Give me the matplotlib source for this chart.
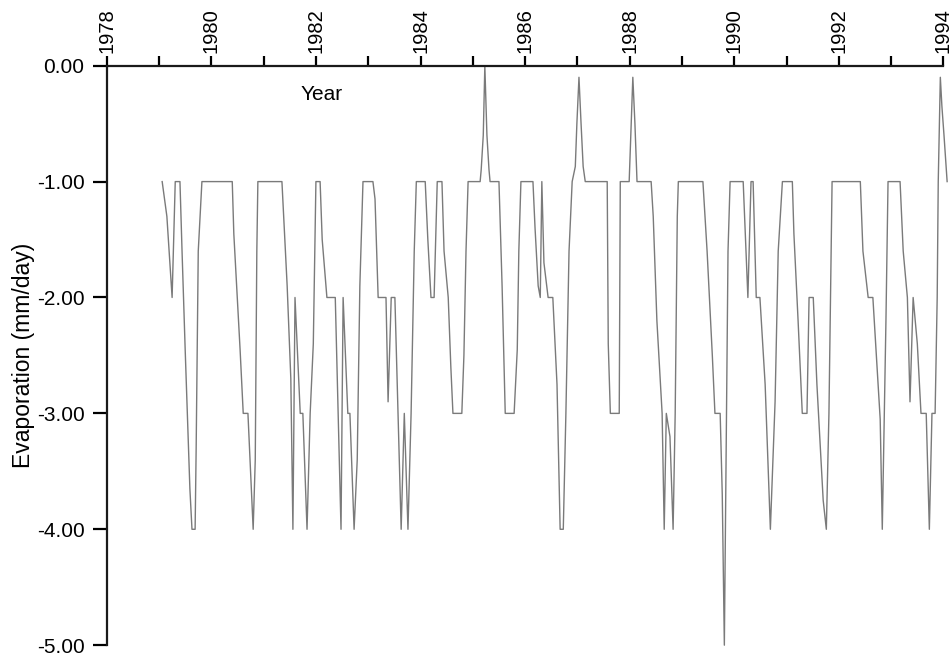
import matplotlib
matplotlib.use("Agg")
import matplotlib.pyplot as plt
from matplotlib.ticker import FormatStrFormatter

plt.rcParams['font.family'] = ['Liberation Sans', 'DejaVu Sans']
plt.rcParams['axes.unicode_minus'] = False

# evaporation trace (year, mm/day)
years = [
    1979.06, 1979.15, 1979.25, 1979.31, 1979.40, 1979.44, 1979.50, 1979.59, 1979.63, 1979.69,
    1979.71, 1979.75, 1979.82, 1980.40, 1980.43, 1980.55, 1980.61, 1980.70, 1980.80, 1980.84,
    1980.87, 1980.89, 1981.35, 1981.45, 1981.52, 1981.56, 1981.60, 1981.70, 1981.75, 1981.83,
    1981.89, 1981.95, 1982.00, 1982.08, 1982.12, 1982.21, 1982.37, 1982.42, 1982.48, 1982.52,
    1982.61, 1982.65, 1982.73, 1982.79, 1982.84, 1982.90, 1983.09, 1983.13, 1983.19, 1983.34,
    1983.38, 1983.44, 1983.51, 1983.57, 1983.63, 1983.69, 1983.76, 1983.82, 1983.88, 1983.92,
    1984.09, 1984.14, 1984.20, 1984.26, 1984.32, 1984.41, 1984.45, 1984.53, 1984.58, 1984.62,
    1984.79, 1984.83, 1984.87, 1984.91, 1985.14, 1985.16, 1985.20, 1985.23, 1985.27, 1985.31,
    1985.33, 1985.50, 1985.56, 1985.62, 1985.79, 1985.85, 1985.88, 1985.92, 1986.15, 1986.19,
    1986.25, 1986.29, 1986.32, 1986.36, 1986.44, 1986.53, 1986.61, 1986.67, 1986.73, 1986.78,
    1986.84, 1986.90, 1986.96, 1986.99, 1987.03, 1987.07, 1987.11, 1987.15, 1987.57, 1987.59,
    1987.63, 1987.80, 1987.82, 1987.99, 1988.03, 1988.06, 1988.10, 1988.14, 1988.41, 1988.45,
    1988.52, 1988.62, 1988.66, 1988.70, 1988.77, 1988.83, 1988.87, 1988.91, 1988.93, 1989.40,
    1989.48, 1989.58, 1989.63, 1989.73, 1989.77, 1989.81, 1989.84, 1989.88, 1989.92, 1990.17,
    1990.21, 1990.26, 1990.32, 1990.36, 1990.42, 1990.49, 1990.59, 1990.69, 1990.78, 1990.84,
    1990.92, 1991.11, 1991.14, 1991.22, 1991.30, 1991.39, 1991.43, 1991.51, 1991.58, 1991.70,
    1991.76, 1991.81, 1991.87, 1992.41, 1992.46, 1992.56, 1992.65, 1992.79, 1992.83, 1992.90,
    1992.94, 1993.17, 1993.23, 1993.31, 1993.36, 1993.42, 1993.50, 1993.57, 1993.67, 1993.73,
    1993.78, 1993.84, 1993.88, 1993.90, 1993.94, 1993.97, 1994.01, 1994.07,
]
evap = [
    -1.0, -1.3, -2.0, -1.0, -1.0, -1.6, -2.45, -3.65, -4.0, -4.0,
    -3.3, -1.6, -1.0, -1.0, -1.45, -2.45, -3.0, -3.0, -4.0, -3.4,
    -1.6, -1.0, -1.0, -1.9, -2.7, -4.0, -2.0, -3.0, -3.0, -4.0,
    -3.0, -2.4, -1.0, -1.0, -1.5, -2.0, -2.0, -2.9, -4.0, -2.0,
    -3.0, -3.0, -4.0, -3.4, -1.9, -1.0, -1.0, -1.15, -2.0, -2.0,
    -2.9, -2.0, -2.0, -3.0, -4.0, -3.0, -4.0, -3.0, -1.6, -1.0,
    -1.0, -1.5, -2.0, -2.0, -1.0, -1.0, -1.6, -2.0, -2.6, -3.0,
    -3.0, -2.5, -1.6, -1.0, -1.0, -0.9, -0.6, 0.0, -0.6, -0.9,
    -1.0, -1.0, -1.9, -3.0, -3.0, -2.45, -1.6, -1.0, -1.0, -1.4,
    -1.9, -2.0, -1.0, -1.7, -2.0, -2.0, -2.75, -4.0, -4.0, -3.0,
    -1.6, -1.0, -0.87, -0.5, -0.1, -0.5, -0.87, -1.0, -1.0, -2.4,
    -3.0, -3.0, -1.0, -1.0, -0.5, -0.1, -0.5, -1.0, -1.0, -1.3,
    -2.2, -3.0, -4.0, -3.0, -3.2, -4.0, -3.0, -1.3, -1.0, -1.0,
    -1.6, -2.5, -3.0, -3.0, -3.7, -5.0, -3.5, -1.6, -1.0, -1.0,
    -1.45, -2.0, -1.0, -1.0, -2.0, -2.0, -2.75, -4.0, -2.9, -1.6,
    -1.0, -1.0, -1.45, -2.2, -3.0, -3.0, -2.0, -2.0, -2.75, -3.75,
    -4.0, -3.0, -1.0, -1.0, -1.6, -2.0, -2.0, -3.05, -4.0, -2.2,
    -1.0, -1.0, -1.6, -2.0, -2.9, -2.0, -2.4, -3.0, -3.0, -4.0,
    -3.0, -3.0, -2.0, -1.0, -0.1, -0.35, -0.6, -1.0,
]

year_ticks = list(range(1978, 1995))
year_labels = [str(y) if y % 2 == 0 else '' for y in year_ticks]
evap_ticks = [0.0, -1.0, -2.0, -3.0, -4.0, -5.0]

fig = plt.figure(figsize=(9.53, 6.57), dpi=100)
ax = fig.add_axes([0.112, 0.018, 0.878, 0.882])

ax.plot(years, evap, color='#7a7a7a', linewidth=1.0, clip_on=False)

ax.set_xlim(1978, 1994)
ax.set_ylim(-5.0, 0.0)

ax.xaxis.tick_top()
ax.set_xticks(year_ticks)
ax.set_xticklabels(year_labels, rotation=90, fontsize=14.5)
ax.set_yticks(evap_ticks)
ax.yaxis.set_major_formatter(FormatStrFormatter('%.2f'))
ax.tick_params(axis='y', direction='out', length=10, width=1.6, labelsize=15, pad=6)
ax.tick_params(axis='x', direction='out', length=7, width=1.6, pad=2)

for side in ['right', 'bottom']:
    ax.spines[side].set_visible(False)
for side in ['left', 'top']:
    ax.spines[side].set_linewidth(1.6)
    ax.spines[side].set_color('#1a1a1a')

ax.set_ylabel('Evaporation (mm/day)', fontsize=16.5, labelpad=1)
ax.text(1982.1, -0.25, 'Year', fontsize=15, ha='center', va='center')

fig.savefig('out.png', dpi=100)
